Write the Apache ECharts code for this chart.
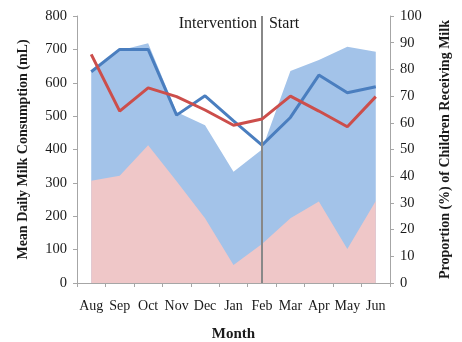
<!DOCTYPE html>
<html><head><meta charset="utf-8">
<script src="https://cdn.jsdelivr.net/npm/echarts@6/dist/echarts.min.js"></script>
<style>html,body{margin:0;padding:0;background:#fff}#c{width:462px;height:342px}</style>
</head><body><div id="c"></div>
<script>
const months = ['Aug','Sep','Oct','Nov','Dec','Jan','Feb','Mar','Apr','May','Jun'];
const blueArea = [633, 697, 718, 512, 473, 333, 400, 635, 668, 708, 693];
const pinkArea = [306, 321, 413, 305, 194, 54, 117, 194, 244, 102, 246];
const blueLine = [633, 700, 700, 503, 561, 486, 413, 496, 623, 570, 588];
const redLinePct = [85.6, 64.4, 73.1, 69.8, 64.8, 59.1, 61.4, 70.0, 64.4, 58.5, 69.8];
const leftTicks = [0, 800, 100];
const rightTicks = [0, 100, 10];
const interventionMonth = 'Feb';

const font = 'Liberation Serif';
const axisLine = {show: true, lineStyle: {color: '#a6a6a6', width: 1}};
const chart = echarts.init(document.getElementById('c'));
chart.setOption({
  animation: false,
  grid: {left: 77, right: 72, top: 16, bottom: 59, outerBoundsMode: 'none', containLabel: false},
  xAxis: {
    type: 'category', data: months, boundaryGap: true,
    axisLine: axisLine, axisTick: {show: true, length: 4, lineStyle: {color: '#a6a6a6'}},
    axisLabel: {fontFamily: font, fontSize: 14, color: '#1a1a1a', margin: 16, interval: 0},
    name: 'Month', nameLocation: 'middle', nameGap: 44,
    nameTextStyle: {fontFamily: font, fontSize: 15, fontWeight: 'bold', color: '#1a1a1a'}
  },
  yAxis: [{
    type: 'value', min: leftTicks[0], max: leftTicks[1], interval: leftTicks[2],
    axisLine: axisLine, axisTick: {show: true, length: 4, lineStyle: {color: '#a6a6a6'}},
    splitLine: {show: false},
    axisLabel: {fontFamily: font, fontSize: 14.5, color: '#1a1a1a', margin: 10},
    name: 'Mean Daily Milk Consumption (mL)', nameLocation: 'middle', nameGap: 47,
    nameTextStyle: {fontFamily: font, fontSize: 14, fontWeight: 'bold', color: '#1a1a1a'}
  }, {
    type: 'value', min: rightTicks[0], max: rightTicks[1], interval: rightTicks[2],
    position: 'right',
    axisLine: axisLine, axisTick: {show: true, length: 4, lineStyle: {color: '#a6a6a6'}},
    splitLine: {show: false},
    axisLabel: {fontFamily: font, fontSize: 14.5, color: '#1a1a1a', margin: 10},
    name: 'Proportion (%) of Children Receiving Milk', nameLocation: 'middle', nameGap: 48,
    nameRotate: 90,
    nameTextStyle: {fontFamily: font, fontSize: 14, fontWeight: 'bold', color: '#1a1a1a'}
  }],
  series: [{
    type: 'line', data: blueArea, yAxisIndex: 0, symbol: 'none',
    lineStyle: {width: 0}, areaStyle: {color: '#a3c3e9', opacity: 1}, z: 1
  }, {
    type: 'line', data: pinkArea, yAxisIndex: 0, symbol: 'none',
    lineStyle: {width: 0}, areaStyle: {color: '#efc7c8', opacity: 1}, z: 2,
    markLine: {
      silent: true, symbol: 'none',
      lineStyle: {color: '#888888', width: 2, type: 'solid'},
      label: {
        show: true, position: 'end', distance: -16,
        formatter: 'Intervention   Start',
        fontFamily: font, fontSize: 16, color: '#1a1a1a',
        padding: [0, 46, 0, 0]
      },
      data: [{xAxis: interventionMonth}]
    }
  }, {
    type: 'line', data: blueLine, yAxisIndex: 0, symbol: 'none',
    lineStyle: {color: '#4a7ebf', width: 3}, z: 4
  }, {
    type: 'line', data: redLinePct, yAxisIndex: 1, symbol: 'none',
    lineStyle: {color: '#cc4e4b', width: 3}, z: 5
  }]
});
</script></body></html>
